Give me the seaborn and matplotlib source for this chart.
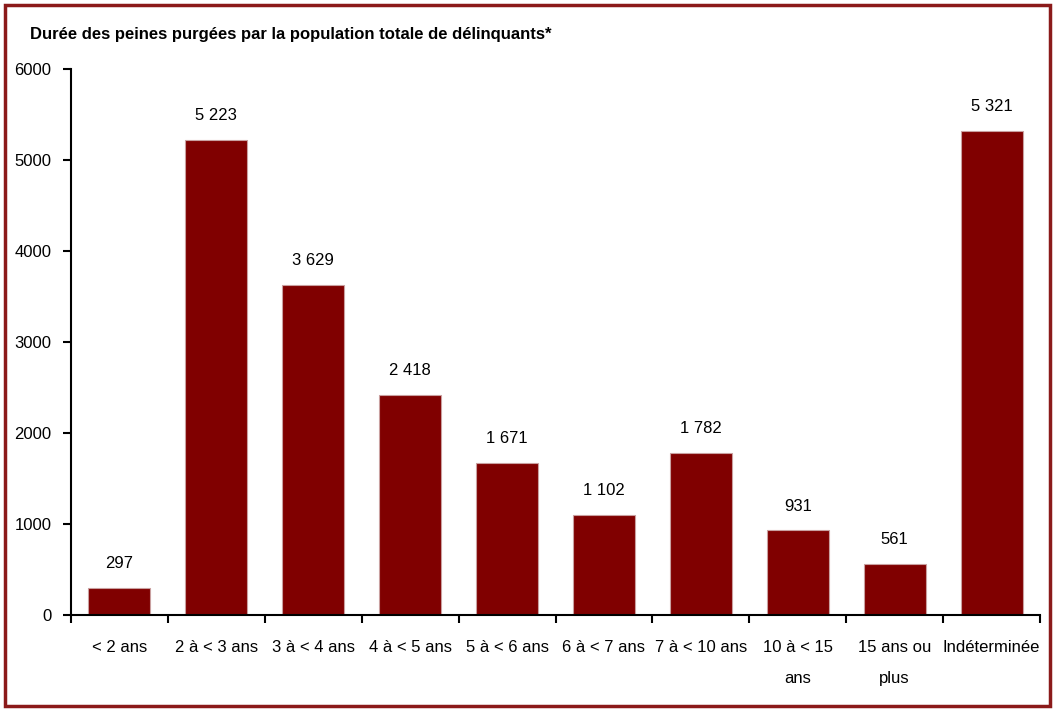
import matplotlib
matplotlib.use("Agg")
import matplotlib.pyplot as plt
import seaborn as sns
import pandas as pd
from matplotlib.patches import Rectangle
from matplotlib.ticker import FixedLocator

categories = ["< 2 ans", "2 à < 3 ans", "3 à < 4 ans", "4 à < 5 ans", "5 à < 6 ans",
              "6 à < 7 ans", "7 à < 10 ans", "10 à < 15\nans", "15 ans ou\nplus", "Indéterminée"]
values = [297, 5223, 3629, 2418, 1671, 1102, 1782, 931, 561, 5321]
yticks = [0, 1000, 2000, 3000, 4000, 5000, 6000]
title = "Durée des peines purgées par la population totale de délinquants*"

sns.set_theme(style="white")
plt.rcParams['font.family'] = ['Liberation Sans Narrow', 'Liberation Sans', 'DejaVu Sans']
plt.rcParams['text.color'] = 'black'
plt.rcParams['xtick.color'] = 'black'
plt.rcParams['ytick.color'] = 'black'

df = pd.DataFrame({"cat": categories, "val": values})

fig = plt.figure(figsize=(10.55, 7.11), dpi=100)
ax = fig.add_axes([71/1055, 1-615/711, (1040-71)/1055, (615-69)/711])

sns.barplot(data=df, x="cat", y="val", color="#800000", saturation=1, width=0.64,
            edgecolor="#c9a0a0", linewidth=0.8, ax=ax)

ax.set_xlim(-0.5, len(categories) - 0.5)
ax.set_ylim(0, 6000)
ax.set_yticks(yticks)
ax.set_yticklabels([str(t) for t in yticks], fontsize=12)

n = len(categories)
ax.xaxis.set_major_locator(FixedLocator([i - 0.5 for i in range(n + 1)]))
ax.set_xticklabels([""] * (n + 1))
ax.xaxis.set_minor_locator(FixedLocator(list(range(n))))
ax.set_xticklabels(categories, minor=True, fontsize=12, linespacing=2.3, va="top")
ax.tick_params(axis="x", which="major", direction="out", length=6, width=1.5, color="black", bottom=True)
ax.tick_params(axis="x", which="minor", length=0, pad=18, bottom=True)
ax.tick_params(axis="y", which="major", direction="out", length=6, width=1.5, color="black", left=True, pad=8)

for s in ["top", "right"]:
    ax.spines[s].set_visible(False)
for s in ["left", "bottom"]:
    ax.spines[s].set_color("black")
    ax.spines[s].set_linewidth(1.5)

ax.set_xlabel("")
ax.set_ylabel("")

for i, v in enumerate(values):
    lbl = f"{v:,}".replace(",", " ")
    ax.annotate(lbl, (i, v), xytext=(0, 12), textcoords="offset points",
                ha="center", va="bottom", fontsize=12, color="black")

fig.text(30/1055, 1-35/711, title, fontsize=12, fontweight="bold", ha="left", va="center", color="black")

fig.patches.append(Rectangle((5/1055, 5/711), 1045/1055, 701/711, transform=fig.transFigure,
                             fill=False, edgecolor="#8b1a1a", linewidth=2.5))

fig.savefig("out.png", dpi=100)
